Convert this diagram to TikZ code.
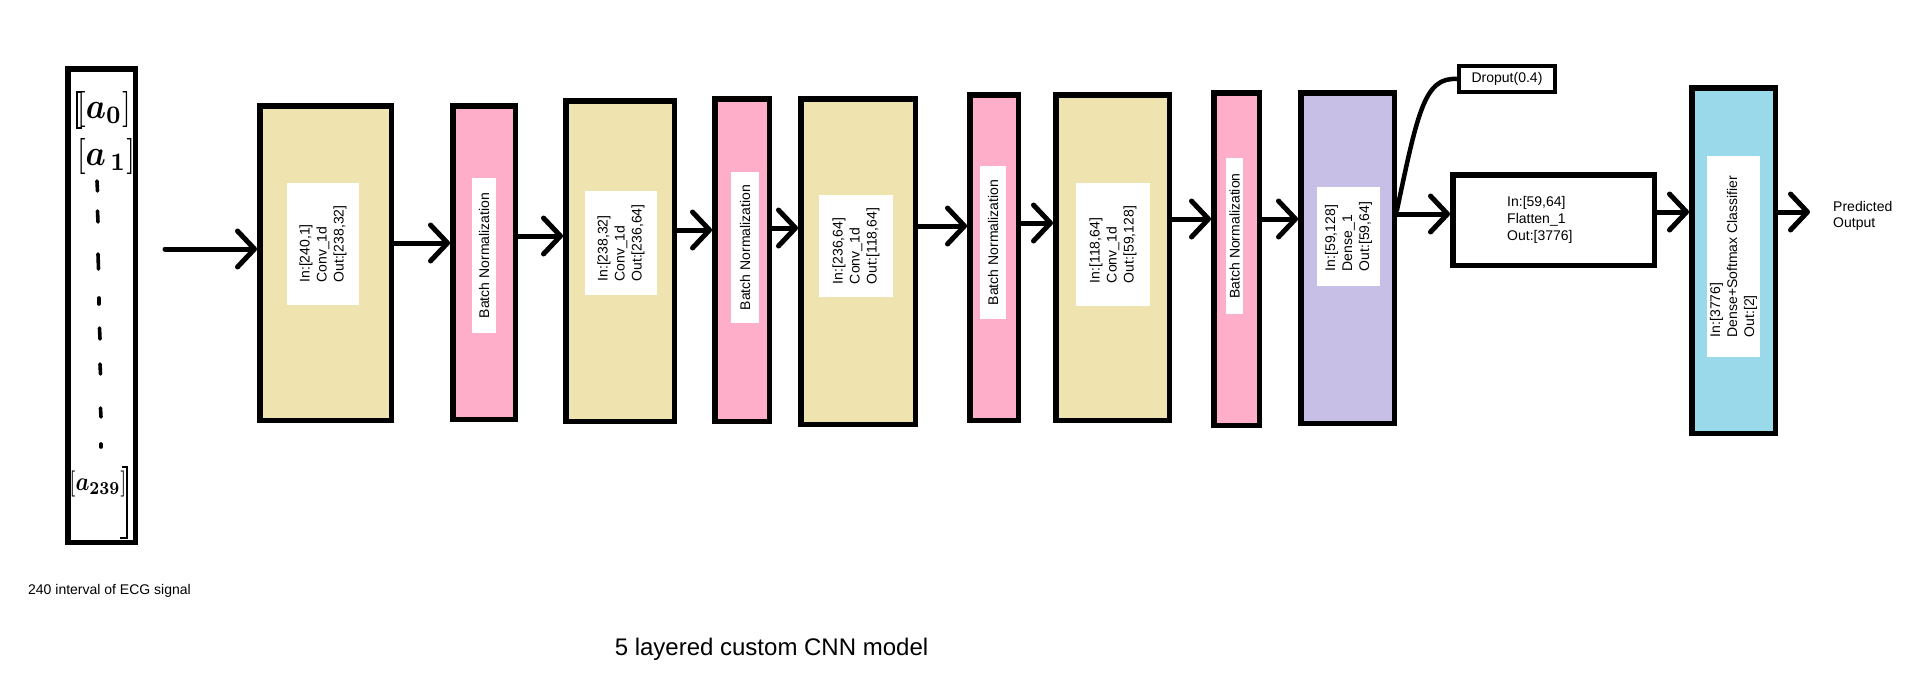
\documentclass[tikz,border=0pt]{standalone}
\usepackage{amsmath}
\usepackage{fontspec}
\setmainfont{Liberation Sans}
\usetikzlibrary{arrows.meta}
\definecolor{convfill}{RGB}{239,228,176}
\definecolor{bnfill}{RGB}{255,174,201}
\definecolor{densefill}{RGB}{200,191,231}
\definecolor{softfill}{RGB}{153,217,234}
\begin{document}
\begin{tikzpicture}[x=1pt,y=-1pt,
  layer/.style={draw=black, line width=5.5pt, inner sep=0pt},
  lbl/.style={fill=white, rotate=90, align=left, inner sep=0pt, font=\fontsize{14}{17}\selectfont},
  txt/.style={font=\fontsize{14}{16}\selectfont, inner sep=0pt},
  arr/.style={line width=5pt, line cap=round, -{Straight Barb[length=17pt,width=36pt,line width=5pt,round]}},
  tick/.style={line width=3.6pt, line cap=round},
  hand/.style={inner sep=0pt}
]
\useasboundingbox (0,0) rectangle (1914,688);

% input column
\node[layer, fill=white, minimum width=67.5pt, minimum height=473.5pt] (inp) at (101.5,305.5) {};
\draw[line width=2.8pt] (81,92) -- (77,92) -- (77,128) -- (82,128);
\node[hand] (a0) at (104,109) {\scalebox{3.2}[3.6]{$[\boldsymbol{a}_{\boldsymbol{0}}]$}};
\node[hand] (a1) at (106,156) {\scalebox{3.2}[3.6]{$[\boldsymbol{a}_{\,\boldsymbol{1}}]$}};
\node[hand] (a239) at (98,484) {\scalebox{2.2}[2.6]{$[\boldsymbol{a}_{\boldsymbol{239}}]$}};
\draw[line width=1.2pt] (122,467) -- (127,467) -- (127,538) -- (120,538);
\draw[tick] (97,181) -- (97.5,191);
\draw[tick] (97.5,211) -- (98,222);
\draw[tick] (98,254) -- (98.5,269);
\draw[tick] (99,298) -- (99,304);
\draw[tick] (99.5,328) -- (100,339);
\draw[tick] (100,364) -- (100.5,374);
\draw[tick] (100.5,408) -- (101,417);
\draw[tick] (101,444) -- (101,447);

% layers
\node[layer, fill=convfill, minimum width=131.5pt, minimum height=314.5pt] (conv1) at (325.5,263) {};
\node[lbl, minimum width=122pt, minimum height=72pt] (conv1l) at (323,244) {In:[240,1]\\Conv\_1d\\Out:[238,32]};

\node[layer, fill=bnfill, minimum width=62.5pt, minimum height=313.5pt] (bn1) at (484,262.5) {};
\node[lbl, minimum width=155pt, minimum height=24pt] (bn1l) at (484,255.5) {Batch Normalization};

\node[layer, fill=convfill, minimum width=108.5pt, minimum height=320.5pt] (conv2) at (620,261) {};
\node[lbl, minimum width=104pt, minimum height=72pt] (conv2l) at (621,243) {In:[238,32]\\Conv\_1d\\Out:[236,64]};

\node[layer, fill=bnfill, minimum width=54.5pt, minimum height=322.5pt] (bn2) at (742,260) {};
\node[lbl, minimum width=151pt, minimum height=28pt] (bn2l) at (745,247.5) {Batch Normalization};

\node[layer, fill=convfill, minimum width=114.5pt, minimum height=325.5pt] (conv3) at (858,261.5) {};
\node[lbl, minimum width=102pt, minimum height=74pt] (conv3l) at (856,246) {In:[236,64]\\Conv\_1d\\Out:[118,64]};

\node[layer, fill=bnfill, minimum width=48.5pt, minimum height=325.5pt] (bn3) at (994,257.5) {};
\node[lbl, minimum width=153pt, minimum height=26pt] (bn3l) at (993,242.5) {Batch Normalization};

\node[layer, fill=convfill, minimum width=113.5pt, minimum height=325.5pt] (conv4) at (1112.5,257.5) {};
\node[lbl, minimum width=123pt, minimum height=74pt] (conv4l) at (1113,244.5) {In:[118,64]\\Conv\_1d\\Out:[59,128]};

\node[layer, fill=bnfill, minimum width=45.5pt, minimum height=332.5pt] (bn4) at (1236.5,259) {};
\node[lbl, minimum width=156pt, minimum height=17pt] (bn4l) at (1234.5,236) {Batch Normalization};

\node[layer, fill=densefill, minimum width=93.5pt, minimum height=330.5pt] (dense) at (1347.5,258) {};
\node[lbl, minimum width=99pt, minimum height=63pt] (densel) at (1348.5,236.5) {In:[59,128]\\Dense\_1\\Out:[59,64]};

\node[draw=black, line width=4pt, inner sep=0pt, minimum width=96pt, minimum height=26pt, txt] (drop) at (1507,79) {Droput(0.4)};

\node[layer, fill=white, minimum width=201.5pt, minimum height=90.5pt] (flat) at (1553.5,220) {};
\node[txt, align=left, anchor=west, font=\fontsize{14}{17}\selectfont] (flatl) at (1507,220) {In:[59,64]\\Flatten\_1\\Out:[3776]};

\node[layer, fill=softfill, minimum width=83.5pt, minimum height=345.5pt] (soft) at (1733.5,260.5) {};
\node[lbl, minimum width=201pt, minimum height=53pt] (softl) at (1733.5,256.5) {In:[3776]\\Dense+Softmax Classifier\\Out:[2]};

% connectors
\coordinate (s0) at (165,249);
\coordinate (outend) at (1810,212);
\draw[arr] (s0) -- (conv1.west |- s0);
\draw[arr] (conv1.east |- 0,243) -- (bn1.west |- 0,243);
\draw[arr] (bn1.east |- 0,236) -- (conv2.west |- 0,236);
\draw[arr] (conv2.east |- 0,230) -- (bn2.west |- 0,230);
\draw[arr] (bn2.east |- 0,228) -- (conv3.west |- 0,228);
\draw[arr] (conv3.east |- 0,226) -- (bn3.west |- 0,226);
\draw[arr] (bn3.east |- 0,223) -- (conv4.west |- 0,223);
\draw[arr] (conv4.east |- 0,219) -- (bn4.west |- 0,219);
\draw[arr] (bn4.east |- 0,219) -- (dense.west |- 0,219);
\draw[arr] (dense.east |- 0,214) -- (flat.west |- 0,214);
\draw[arr] (flat.east |- 0,212) -- (soft.west |- 0,212);
\draw[arr] (soft.east |- outend) -- (outend);
\draw[line width=4.5pt, line cap=round] (dense.east |- 0,210) .. controls (1418,110) and (1425,77) .. (drop.west);

% texts
\node[txt, align=left, anchor=west] (pred) at (1833,216) {Predicted\\Output};
\node[txt] (ecg) at (109.5,591) {240 interval of ECG signal};
\node[inner sep=0pt, font=\fontsize{24}{28}\selectfont] (title) at (771.5,649) {5 layered custom CNN model};
\end{tikzpicture}
\end{document}
